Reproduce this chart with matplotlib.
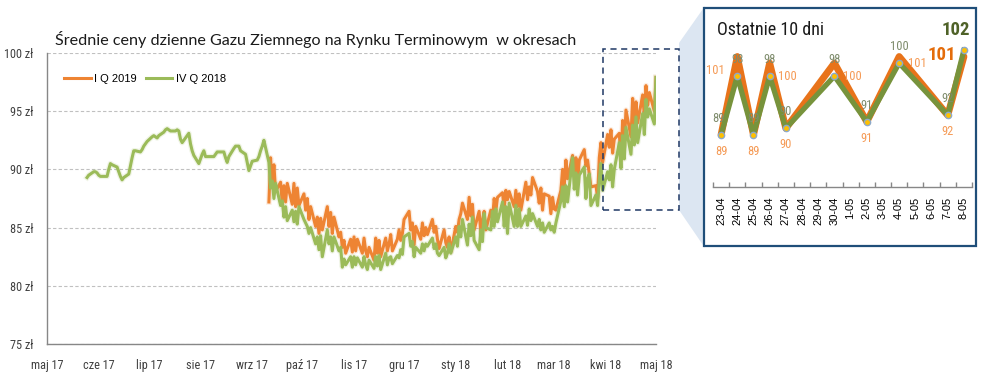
import matplotlib
matplotlib.use("Agg")
import matplotlib.pyplot as plt
import matplotlib.patheffects as pe
from matplotlib import font_manager as fm
from matplotlib.patches import Rectangle, Polygon
from matplotlib.lines import Line2D
import pandas as pd

# ---------------- data ----------------
title = "Średnie ceny dzienne Gazu Ziemnego na Rynku Terminowym  w okresach"
series_names = ["I Q 2019", "IV Q 2018"]

green_start = "2017-05-25"
overlap_start = "2017-09-11"
end_date = "2018-05-01"

green_early = [
    89.3, 89.5, 89.8, 89.8, 89.7,
    89.5, 89.4, 89.4, 89.4, 90.0, 90.5, 90.4, 90.2, 89.8, 89.4, 89.1, 89.3, 89.6, 90.3, 91.0, 91.6, 91.6,
    91.5, 91.7, 92.0, 92.2, 92.4,
    92.8, 92.9, 92.8, 92.7, 92.9, 93.2, 93.4, 93.5, 93.4, 93.3, 93.3, 93.4, 93.3, 92.6, 92.3, 92.9, 93.1,
    92.2, 91.6, 91.2, 90.5,
    90.9, 91.3, 91.6, 91.1, 91.1, 91.1, 91.1, 91.3, 91.5, 91.5, 91.5, 91.0, 90.6, 91.1, 91.8, 92.0, 92.0,
    92.0, 91.6, 91.3, 90.6, 89.9, 90.3,
    90.7, 90.8, 91.1, 91.6, 92.0, 92.5,
]

green_late = [
    90.6, 88.4, 89.0, 87.5, 88.8, 86.9, 87.3, 85.9, 86.8, 85.6,
    86.5, 85.5, 86.4, 85.3, 86.8, 85.7, 85.4, 85.1, 84.5, 85.0,
    83.6, 84.2, 83.1, 84.3, 82.5, 84.8, 83.6, 84.2, 83.0, 84.2,
    83.0, 83.3, 81.6, 82.3, 81.8, 82.5, 81.6, 82.5, 81.8, 82.4,
    81.6, 82.5, 81.8, 81.4, 82.2, 81.5, 82.5, 81.7, 82.6, 81.4,
    82.8, 81.8, 82.4, 82.5, 81.9, 82.6, 82.4, 83.1, 82.7, 84.2,
    84.5, 83.4, 83.8, 82.5, 83.3, 82.8, 83.6, 83.0, 83.6, 83.4,
    84.1, 83.2, 83.6, 82.8, 82.6, 83.3, 82.4, 82.8, 83.6, 82.8,
    84.2, 83.4, 85.1, 84.2, 85.7, 83.5, 85.3, 84.3, 85.9, 83.9,
    83.1, 84.8, 83.8, 86.2, 85.0, 84.8, 86.4, 85.1, 86.6, 85.5,
    87.2, 85.1, 86.8, 84.5, 87.1, 85.1, 86.9, 85.1, 86.6, 85.1,
    86.0, 85.2, 86.6, 85.6, 86.2, 85.1, 85.7, 84.8, 85.4, 84.6,
    85.4, 84.8, 85.1, 84.6, 85.4, 87.3, 88.5, 86.8, 88.6, 87.2,
    91.0, 88.3, 89.7, 87.8, 89.5, 90.2, 87.5, 89.2, 89.6, 86.9,
    87.8, 86.9, 89.0, 90.5, 88.2, 89.8, 89.1, 90.4, 88.5, 90.0,
    92.3, 90.1, 92.9, 90.9, 93.6, 91.3, 93.8, 92.1, 94.5, 92.3,
    94.8, 93.0, 96.0, 94.5, 95.2, 93.9, 97.9,
]

orange_vals = [
    87.2, 91.0, 88.5, 90.4, 88.1, 88.9, 87.1, 88.6, 87.2, 88.8,
    87.0, 88.8, 86.8, 88.4, 86.9, 87.9, 86.5, 87.5, 85.7, 86.8,
    85.1, 85.9, 84.5, 85.8, 84.8, 86.8, 85.1, 86.3, 84.5, 85.9,
    84.2, 84.6, 83.3, 83.9, 82.8, 84.0, 82.9, 84.2, 83.0, 84.0,
    82.8, 84.1, 83.0, 82.5, 83.3, 82.2, 84.1, 82.8, 83.9, 82.5,
    84.1, 83.0, 83.6, 84.4, 83.0, 84.0, 84.8, 83.9, 84.5, 85.7,
    86.4, 84.8, 85.4, 83.5, 85.1, 84.0, 85.4, 84.3, 85.0, 84.4,
    85.7, 84.6, 85.1, 84.0, 83.2, 84.8, 83.7, 83.3, 84.2, 82.9,
    85.1, 84.6, 85.7, 86.2, 87.1, 85.7, 87.6, 86.0, 87.0, 84.8,
    86.4, 84.5, 85.6, 86.4, 84.8, 86.5, 85.7, 87.5, 86.4, 87.6,
    88.0, 86.6, 88.2, 87.4, 88.1, 86.8, 88.2, 86.8, 87.9, 86.5,
    88.9, 87.4, 88.5, 87.8, 89.3, 88.1, 87.1, 88.4, 86.5, 87.9,
    87.7, 86.2, 87.6, 86.6, 86.5, 88.2, 90.0, 88.5, 90.8, 89.2,
    91.2, 89.6, 91.0, 88.8, 90.8, 91.7, 90.3, 90.8, 89.6, 88.5,
    88.6, 87.6, 91.0, 92.3, 90.6, 93.0, 91.9, 93.4, 91.4, 92.6,
    93.1, 90.8, 94.2, 92.0, 95.1, 92.8, 96.1, 93.5, 95.8, 94.0,
    96.4, 94.6, 97.2, 95.5, 96.6, 95.0, 97.9,
]

month_labels = ["maj 17", "cze 17", "lip 17", "sie 17", "wrz 17", "paź 17", "lis 17",
                "gru 17", "sty 18", "lut 18", "mar 18", "kwi 18", "maj 18"]
y_ticks = [75, 80, 85, 90, 95, 100]
y_labels = ["75 zł", "80 zł", "85 zł", "90 zł", "95 zł", "100 zł"]

# inset
inset_title = "Ostatnie 10 dni"
inset_cats = ["23-04", "24-04", "25-04", "26-04", "27-04", "28-04", "29-04", "30-04",
              "1-05", "2-05", "3-05", "4-05", "5-05", "6-05", "7-05", "8-05"]
inset_days = ["23-04", "24-04", "25-04", "26-04", "27-04", "30-04", "2-05", "4-05", "7-05", "8-05"]
inset_green = [89, 98, 89, 98, 90, 98, 91, 100, 92, 102]
inset_orange = [89, 101, 89, 100, 90, 100, 91, 101, 92, 101]

# ---------------- fonts ----------------
avail = {f.name for f in fm.fontManager.ttflist}
def pick(*names):
    for n in names:
        if n in avail:
            return n
    return "DejaVu Sans"
NARROW = pick("Liberation Sans Narrow", "Roboto Condensed", "Open Sans Condensed", "Lato")
TITLEF = pick("Lato", "Open Sans")
PLAIN = pick("Liberation Sans", "DejaVu Sans")

C_OR = "#EE8433"
C_GR = "#9BBB59"

W, H = 985, 380
fig = plt.figure(figsize=(W / 100, H / 100), dpi=100)

def fx(px):
    return px / W

def fy(py):
    return 1 - py / H

# ---------------- main chart ----------------
ax = fig.add_axes([fx(47), fy(344), fx(656) - fx(47), fy(53) - fy(344)])
g_dates = pd.bdate_range(green_start, "2017-09-08").append(pd.bdate_range(overlap_start, end_date))
o_dates = pd.bdate_range(overlap_start, end_date)
g_vals = green_early + green_late

glow_or = [pe.Stroke(linewidth=4.0, foreground=C_OR, alpha=0.15), pe.Normal()]
glow_gr = [pe.Stroke(linewidth=4.0, foreground=C_GR, alpha=0.15), pe.Normal()]
ax.plot(o_dates, orange_vals, color=C_OR, lw=2.2, solid_joinstyle="round",
        path_effects=glow_or, zorder=3)
ax.plot(g_dates, g_vals, color=C_GR, lw=2.2, solid_joinstyle="round",
        path_effects=glow_gr, zorder=4)

ax.set_ylim(75, 100)
ax.set_xlim(pd.Timestamp("2017-05-01"), pd.Timestamp("2018-05-01"))
ax.set_yticks(y_ticks)
ax.set_yticklabels(y_labels, fontfamily=NARROW, fontsize=8.8, color="#404040")
mticks = pd.date_range("2017-05-01", "2018-05-01", freq="MS")
ax.set_xticks(mticks)
ax.set_xticklabels(month_labels, fontfamily=NARROW, fontsize=8.8, color="#404040")
ax.tick_params(axis="both", length=0)
ax.tick_params(axis="y", pad=10)
ax.tick_params(axis="x", pad=11)
for s in ["top", "right"]:
    ax.spines[s].set_visible(False)
for s in ["left", "bottom"]:
    ax.spines[s].set_color("#878787")
    ax.spines[s].set_linewidth(1.0)
ax.yaxis.grid(True, color="#C0C0C0", linestyle=(0, (3, 2)), linewidth=0.8)
ax.set_axisbelow(True)

handles = [Line2D([], [], color=C_OR, lw=2.2), Line2D([], [], color=C_GR, lw=2.2)]
ax.legend(handles, series_names, loc="center left", bbox_to_anchor=(0.012, 0.91), ncol=2,
          frameon=False, handlelength=2.4, handletextpad=0.3, columnspacing=0.8,
          prop={"family": PLAIN, "size": 8})

fig.text(fx(55), fy(40), title, fontfamily=TITLEF, fontsize=11.6, ha="left", va="center", color="#1a1a1a")

# dashed zoom rectangle
fig.add_artist(Rectangle((fx(603), fy(210)), fx(679) - fx(603), fy(49) - fy(210),
                         transform=fig.transFigure, fill=False, edgecolor="#1F3864",
                         linewidth=1.1, linestyle=(0, (4, 3)), zorder=5))
# connector
fig.add_artist(Polygon([(fx(679), fy(43)), (fx(705), fy(6)), (fx(705), fy(248)), (fx(679), fy(210))],
                       closed=True, transform=fig.transFigure, facecolor="#DCE6F2",
                       edgecolor="none", zorder=1))
# inset box
fig.add_artist(Rectangle((fx(704), fy(246)), fx(976) - fx(704), fy(8) - fy(246),
                         transform=fig.transFigure, facecolor="white", edgecolor="#1F4E79",
                         linewidth=1.6, zorder=2))

# ---------------- inset chart ----------------
axi = fig.add_axes([fx(713), fy(187), fx(972) - fx(713), fy(37) - fy(187)], zorder=6)
axi.patch.set_alpha(0)
xi = [inset_cats.index(d) for d in inset_days]
axi.plot(xi, inset_orange, color="#E8731A", lw=5.0, solid_joinstyle="round",
         solid_capstyle="round", zorder=3)
axi.plot(xi, inset_green, color="#77933C", lw=3.8, solid_joinstyle="round", zorder=4,
         marker="o", markersize=4.5, markerfacecolor="#FFC000", markeredgecolor="#8EA9C8",
         markeredgewidth=1.0)
axi.set_xlim(-0.5, len(inset_cats) - 0.5)
axi.set_ylim(81, 104)
axi.set_yticks([])
for s in ["top", "right", "left"]:
    axi.spines[s].set_visible(False)
axi.spines["bottom"].set_color("#878787")
axi.spines["bottom"].set_linewidth(1.0)
axi.set_xticks(range(len(inset_cats)))
axi.set_xticklabels(inset_cats, rotation=90, fontfamily=PLAIN, fontsize=8, color="black")
axi.tick_params(axis="x", which="major", length=0, pad=7)
axi.set_xticks([i - 0.5 for i in range(len(inset_cats) + 1)], minor=True)
axi.tick_params(axis="x", which="minor", direction="in", length=3.5, color="#878787", width=1.0)

GL = "#7E8C6C"
OL = "#F59A55"
for i, (x, g, o) in enumerate(zip(xi, inset_green, inset_orange)):
    if i == len(xi) - 1:
        continue
    gdx = -2 if i == 0 else 0
    axi.annotate(str(g), (x, g), xytext=(gdx, 12), textcoords="offset points", ha="center",
                 va="center", fontfamily=NARROW, fontsize=9, color=GL, zorder=7)
    if o > g:
        dx = -16 if i == 1 else 13
        dy = -5 if i == 7 else -10
        axi.annotate(str(o), (x, o), xytext=(dx, dy), textcoords="offset points", ha="center",
                     va="center", fontfamily=NARROW, fontsize=9, color=OL, zorder=7)
    else:
        axi.annotate(str(o), (x, o), xytext=(0, -12), textcoords="offset points", ha="center",
                     va="center", fontfamily=NARROW, fontsize=9, color=OL, zorder=7)

fig.text(fx(717), fy(30), inset_title, fontfamily=NARROW, fontsize=13, ha="left", va="center",
         color="#1a1a1a", zorder=8)
fig.text(fx(970), fy(30), str(inset_green[-1]), fontfamily=NARROW, fontsize=13.5, fontweight="bold",
         ha="right", va="center", color="#4F6228", zorder=8)
fig.text(fx(956), fy(55), str(inset_orange[-1]), fontfamily=NARROW, fontsize=13.5, fontweight="bold",
         ha="right", va="center", color="#E46C0A", zorder=8)

fig.savefig("out.png", dpi=100)
